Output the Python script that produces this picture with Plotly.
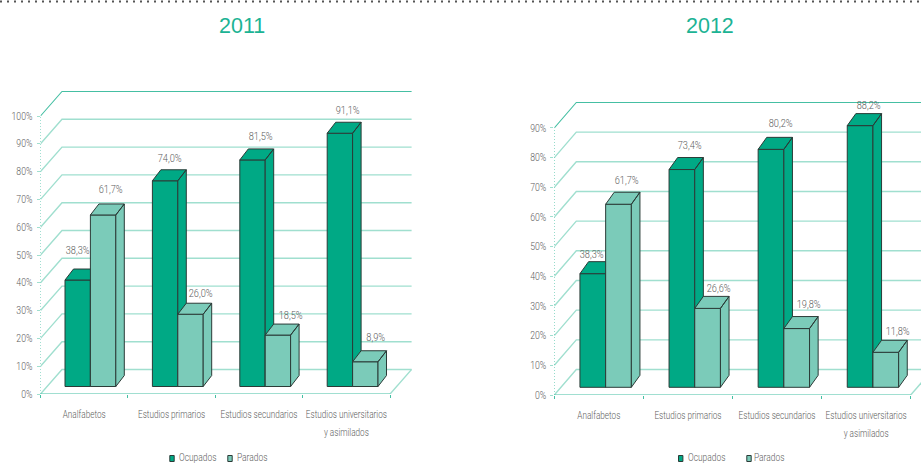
import plotly.graph_objects as go

# ---- data ----
categories = ["Analfabetos", "Estudios primarios", "Estudios secundarios",
              "Estudios universitarios<br>y asimilados"]
ocupados_2011 = [38.3, 74.0, 81.5, 91.1]
parados_2011 = [61.7, 26.0, 18.5, 8.9]
ocupados_2012 = [38.3, 73.4, 80.2, 88.2]
parados_2012 = [61.7, 26.6, 19.8, 11.8]
ticks_2011 = [0, 10, 20, 30, 40, 50, 60, 70, 80, 90, 100]
ticks_2012 = [0, 10, 20, 30, 40, 50, 60, 70, 80, 90]

# ---- style / layout ----
W, H = 921, 464
DARK = "#00a985"
LIGHT = "#7bcbb9"
EDGE = "#2b3b37"
GRID = "#a0dfcf"
GRID_STRONG = "#45bfa3"
TXT = "#5c5c5c"
FONT = "Roboto, Liberation Sans, Arial, sans-serif"
FS = 10.5
LIGHTW = 300

panels = [
    dict(title="2011", tx=242, ty=26, oc=ocupados_2011, pa=parados_2011, ticks=ticks_2011,
         px0=40.5, pxu=87.4, px1=412, py0=394, pyu=2.78, ptop=88,
         ax=("x", "y"), ax1=("x2", "y2"), ax2=("x3", "y3"),
         wall=(21.5, 24.5), depth=(8.5, 11), base=7.5, shift=6.2, bw=25.4,
         oc_off=[(-9, 19), (-4, 11), (-1, 12), (-1, 12)],
         pa_off=[(-1.5, 14), (1, 10), (4, 9), (2, 13)],
         legend=[(172, "Ocupados", 177), (230, "Parados", 235)]),
    dict(title="2012", tx=709.5, ty=26, oc=ocupados_2012, pa=parados_2012, ticks=ticks_2012,
         px0=554.3, pxu=89.1, px1=921, py0=395, pyu=2.967, ptop=98,
         ax=("x4", "y4"), ax1=("x5", "y5"), ax2=("x6", "y6"),
         wall=(22, 25.5), depth=(8.6, 12), base=7.7, shift=6.8, bw=25.7,
         oc_off=[(-10, 7), (-1, 12.5), (1, 14), (0, 8)],
         pa_off=[(-1, 12), (2, 8), (3, 12), (3, 9)],
         legend=[(680.7, "Ocupados", 686), (749, "Parados", 751.5)]),
]

fig = go.Figure()
layout = dict(
    width=W, height=H, autosize=False, margin=dict(l=0, r=0, t=0, b=0),
    paper_bgcolor="white", plot_bgcolor="rgba(0,0,0,0)", showlegend=False,
    barmode="overlay", font=dict(family=FONT, size=FS, color=TXT, weight=LIGHTW),
)
annotations, shapes = [], []
tfont = dict(family=FONT, size=FS, color=TXT, weight=LIGHTW)


def faces(xs, vals, width, base, dxd, dyd):
    """Right-hand and top faces of each column, from its value."""
    side_x, side_y, top_x, top_y = [], [], [], []
    for x, v in zip(xs, vals):
        xl, xr, t = x, x + width, base + v
        side_x += [xr, xr + dxd, xr + dxd, xr, xr, None]
        side_y += [base, base + dyd, t + dyd, t, base, None]
        top_x += [xl, xr, xr + dxd, xl + dxd, xl, None]
        top_y += [t, t, t + dyd, t + dyd, t, None]
    return side_x + top_x, side_y + top_y


def name(a):
    return "xaxis" + a[1:] if a[0] == "x" else "yaxis" + a[1:]


for p in panels:
    xa, ya = p["ax"]
    u, yu = p["pxu"], p["pyu"]
    xmax = (p["px1"] - p["px0"]) / u
    ymax = (p["py0"] - p["ptop"]) / yu
    wx, wy = p["wall"][0] / u, p["wall"][1] / yu
    dxd, dyd = p["depth"][0] / u, p["depth"][1] / yu
    base = p["base"] / yu
    bw = p["bw"] / u
    shift = p["shift"] / u
    n = len(categories)
    centres = [i + 0.5 for i in range(n)]
    dom_x = [p["px0"] / W, p["px1"] / W]
    dom_y = [(H - p["py0"]) / H, (H - p["ptop"]) / H]

    layout[name(xa)] = dict(
        domain=dom_x, range=[0, xmax], tickvals=centres, ticktext=categories, automargin=False,
        ticks="", ticklen=0, ticklabelstandoff=13, showgrid=False, zeroline=False, showline=False,
        tickangle=0, tickfont=tfont, anchor=ya,
        minor=dict(tickvals=list(range(n + 1)), ticks="outside", ticklen=3, tickcolor=GRID_STRONG,
                   tickwidth=1, showgrid=False),
    )
    layout[name(ya)] = dict(
        domain=dom_y, range=[0, ymax], tickvals=p["ticks"], ticktext=[f"{t}%" for t in p["ticks"]],
        automargin=False, ticks="outside", ticklen=3, tickcolor=GRID, ticklabelstandoff=2,
        showgrid=False, zeroline=False, showline=False, tickfont=tfont, anchor=xa,
    )
    # overlay layers, so that the columns stack over the wall lines and over each other
    for xo, yo in (p["ax1"], p["ax2"]):
        layout[name(xo)] = dict(domain=dom_x, range=[0, xmax], visible=False, overlaying=xa, anchor=yo, automargin=False)
        layout[name(yo)] = dict(domain=dom_y, range=[0, ymax], visible=False, overlaying=ya, anchor=xo, automargin=False)

    # wall and floor lines
    gx, gy = [], []
    for v in p["ticks"][1:-1]:
        gx += [0, wx, n + wx, None]
        gy += [v, v + wy, v + wy, None]
    gx += [0, wx, n + wx, None, n, n + wx]
    gy += [0, wy, wy, None, 0, wy]
    fig.add_trace(go.Scatter(x=gx, y=gy, mode="lines", xaxis=xa, yaxis=ya, hoverinfo="skip",
                             line=dict(color=GRID, width=1.4)))
    top = p["ticks"][-1]
    fig.add_trace(go.Scatter(x=[0, wx, n + wx, None, 0, n], y=[top, top + wy, top + wy, None, 0, 0],
                             mode="lines", xaxis=xa, yaxis=ya, hoverinfo="skip",
                             line=dict(color=GRID_STRONG, width=1.1)))
    fig.add_trace(go.Scatter(x=[0, 0], y=[0, top], mode="lines", xaxis=xa, yaxis=ya, hoverinfo="skip",
                             line=dict(color=GRID_STRONG, width=1, dash="1px,2px")))

    # Ocupados layer
    xs_o = [c + shift - bw for c in centres]
    x1, y1 = p["ax1"]
    fig.add_trace(go.Bar(x=xs_o, y=p["oc"], base=base, width=bw, offset=0, name="Ocupados",
                         xaxis=x1, yaxis=y1, marker=dict(color=DARK, line=dict(color=EDGE, width=1))))
    fx, fy = faces(xs_o, p["oc"], bw, base, dxd, dyd)
    fig.add_trace(go.Scatter(x=fx, y=fy, mode="lines", fill="toself", fillcolor=DARK, xaxis=x1, yaxis=y1,
                             hoverinfo="skip", line=dict(color=EDGE, width=1)))

    # Parados layer
    xs_p = [c + shift for c in centres]
    x2, y2 = p["ax2"]
    fig.add_trace(go.Bar(x=xs_p, y=p["pa"], base=base, width=bw, offset=0, name="Parados",
                         xaxis=x2, yaxis=y2, marker=dict(color=LIGHT, line=dict(color=EDGE, width=1))))
    fx, fy = faces(xs_p, p["pa"], bw, base, dxd, dyd)
    fig.add_trace(go.Scatter(x=fx, y=fy, mode="lines", fill="toself", fillcolor=LIGHT, xaxis=x2, yaxis=y2,
                             hoverinfo="skip", line=dict(color=EDGE, width=1)))

    # value labels
    for xs, vals, offs in ((xs_o, p["oc"], p["oc_off"]), (xs_p, p["pa"], p["pa_off"])):
        for x, v, (ox, oy) in zip(xs, vals, offs):
            annotations.append(dict(
                x=x + bw / 2 + dxd, y=base + v + dyd, xref=xa, yref=ya, xshift=ox, yshift=oy,
                text=f"{v:.1f}%".replace(".", ","), showarrow=False, xanchor="center", yanchor="middle",
                font=tfont))

    # title
    annotations.append(dict(x=p["tx"] / W, y=1 - p["ty"] / H, xref="paper", yref="paper", text=p["title"],
                            showarrow=False, xanchor="center", yanchor="middle",
                            font=dict(family="Liberation Sans, Arial, sans-serif", size=21.5, color="#1cb394")))

    # legend
    for (cx, label, tx), col in zip(p["legend"], (DARK, LIGHT)):
        shapes.append(dict(type="rect", xref="paper", yref="paper",
                           x0=(cx - 2.2) / W, x1=(cx + 2.2) / W,
                           y0=1 - 461.5 / H, y1=1 - 455.5 / H,
                           fillcolor=col, line=dict(color=EDGE, width=1)))
        annotations.append(dict(x=tx / W, y=1 - 457.5 / H, xref="paper", yref="paper", text=label,
                                showarrow=False, xanchor="left", yanchor="middle", font=tfont))

# dotted rule along the top of the page
shapes.append(dict(type="line", xref="paper", yref="paper", x0=0, x1=1, y0=1 - 1.5 / H, y1=1 - 1.5 / H,
                   line=dict(color="#555555", width=2, dash="2px,5px")))

layout["annotations"] = annotations
layout["shapes"] = shapes
fig.update_layout(**layout)

# Condense the small labels horizontally (no narrow face is installed); anchors stay where Plotly put them.
post = """
document.body.style.margin='0';
document.documentElement.style.overflow='hidden';
function squeeze(t, s, mode){
  var b=t.getBBox();
  var cx = mode==='r' ? b.x+b.width : (mode==='l' ? b.x : b.x+b.width/2);
  var old=t.getAttribute('transform')||'';
  t.setAttribute('transform', old+' translate('+cx+',0) scale('+s+',1) translate('+(-cx)+',0)');
}
document.querySelectorAll('.xtick text, .x4tick text').forEach(function(t){
  t.querySelectorAll('tspan').forEach(function(ts){
    if(parseFloat(ts.getAttribute('dy')||'0')>0) ts.setAttribute('dy','18px');
  });
  squeeze(t,0.78,'c');
});
document.querySelectorAll('.ytick text, .y4tick text').forEach(function(t){ squeeze(t,0.83,'r'); });
document.querySelectorAll('text.annotation-text').forEach(function(t){
  var s=t.textContent;
  if(/^20/.test(s)) return;
  if(/%/.test(s)) squeeze(t,0.88,'c'); else squeeze(t,0.8,'l');
});
"""
fig.write_html("out.html", config={"displayModeBar": False}, post_script=post)
